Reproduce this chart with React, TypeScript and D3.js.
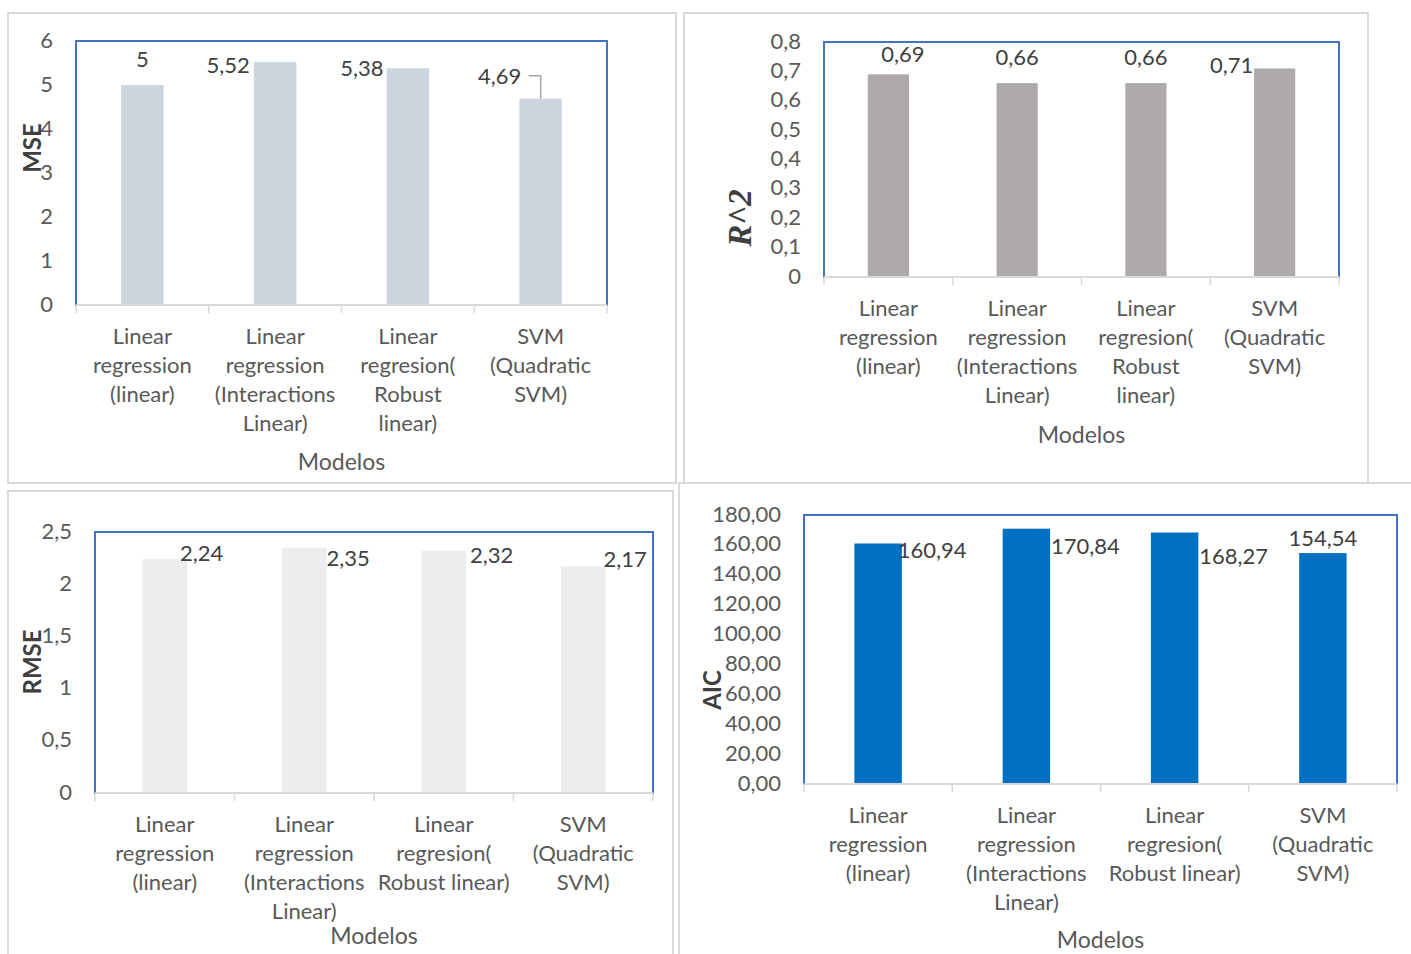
import React from 'react';
import * as d3 from 'd3';

// Model names, wrapped two ways depending on panel width
const categories = [
  'Linear regression (linear)',
  'Linear regression (Interactions Linear)',
  'Linear regresion( Robust linear)',
  'SVM (Quadratic SVM)',
];
const categoryLinesNarrow = [
  ['Linear', 'regression', '(linear)'],
  ['Linear', 'regression', '(Interactions', 'Linear)'],
  ['Linear', 'regresion(', 'Robust', 'linear)'],
  ['SVM', '(Quadratic', 'SVM)'],
];
const categoryLinesWide = [
  ['Linear', 'regression', '(linear)'],
  ['Linear', 'regression', '(Interactions', 'Linear)'],
  ['Linear', 'regresion(', 'Robust linear)'],
  ['SVM', '(Quadratic', 'SVM)'],
];

// Metric values per model
const mseValues = [5, 5.52, 5.38, 4.69];
const r2Values = [0.69, 0.66, 0.66, 0.71];
const rmseValues = [2.24, 2.35, 2.32, 2.17];
const aicValues = [160.94, 170.84, 168.27, 154.54];

// Axis ticks
const mseTicks = [0, 1, 2, 3, 4, 5, 6];
const r2Ticks = [0, 0.1, 0.2, 0.3, 0.4, 0.5, 0.6, 0.7, 0.8];
const rmseTicks = [0, 0.5, 1, 1.5, 2, 2.5];
const aicTicks = [0, 20, 40, 60, 80, 100, 120, 140, 160, 180];

const xTitle = 'Modelos';

const locale = d3.formatLocale({ decimal: ',', thousands: '.', grouping: [3], currency: ['', ''] });
const fmtGeneral = locale.format('~g');
const fmtFixed2 = locale.format('.2f');

const FONT = "Lato, 'Noto Sans', sans-serif";
const TICK_COLOR = '#595959';
const LABEL_COLOR = '#404040';
// small upward nudge so Lato's visual centre sits on the anchor
const TY = -2;

type Panel = {
  key: string;
  frame: [number, number, number, number];
  plot: [number, number, number, number]; // left, top, right, bottom
  values: number[];
  ticks: number[];
  tickFormat: (v: number) => string;
  labelFormat: (v: number) => string;
  barColor: string;
  title: string;
  titleStyle: React.CSSProperties;
  titlePos: [number, number];
  labelOffsets: [number, number][];
  leader?: { index: number; points: [number, number][] };
  lines: string[][];
  modelosDy: number;
};

const panels: Panel[] = [
  {
    key: 'mse',
    frame: [8, 13, 676, 483],
    plot: [76, 41, 607, 305],
    values: mseValues,
    ticks: mseTicks,
    tickFormat: fmtGeneral,
    labelFormat: fmtGeneral,
    barColor: '#CDD5DF',
    title: 'MSE',
    titleStyle: { fontFamily: FONT, fontWeight: 700, fontSize: 24, fill: LABEL_COLOR },
    titlePos: [31, 148],
    labelOffsets: [[0, -25], [-47, 4], [-46, 1.5], [-41, -21]],
    leader: { index: 3, points: [[-12, -23], [0, -23], [0, 0]] },
    lines: categoryLinesNarrow,
    modelosDy: 158,
  },
  {
    key: 'r2',
    frame: [684, 13, 1368, 483],
    plot: [824, 42, 1339, 277],
    values: r2Values,
    ticks: r2Ticks,
    tickFormat: fmtGeneral,
    labelFormat: fmtGeneral,
    barColor: '#AEAAAA',
    title: 'R^2',
    titleStyle: { fontFamily: "'Liberation Serif', serif", fontWeight: 700, fontStyle: 'italic', fontSize: 33, fill: LABEL_COLOR },
    titlePos: [740, 218],
    labelOffsets: [[14.5, -19], [0, -25], [0, -25], [-43, -1.5]],
    lines: categoryLinesNarrow,
    modelosDy: 159,
  },
  {
    key: 'rmse',
    frame: [8, 491, 673, 970],
    plot: [95, 532, 653, 793],
    values: rmseValues,
    ticks: rmseTicks,
    tickFormat: fmtGeneral,
    labelFormat: fmtGeneral,
    barColor: '#EDEDED',
    title: 'RMSE',
    titleStyle: { fontFamily: FONT, fontWeight: 700, fontSize: 24, fill: LABEL_COLOR },
    titlePos: [31, 662],
    labelOffsets: [[37, -5], [44, 12], [48, 6], [42, -6]],
    lines: categoryLinesWide,
    modelosDy: 144,
  },
  {
    key: 'aic',
    frame: [679, 483, 1430, 970],
    plot: [804, 515, 1397, 784],
    values: aicValues,
    ticks: aicTicks,
    tickFormat: fmtFixed2,
    labelFormat: fmtFixed2,
    barColor: '#0070C0',
    title: 'AIC',
    titleStyle: { fontFamily: FONT, fontWeight: 700, fontSize: 24, fill: LABEL_COLOR },
    titlePos: [711, 690],
    labelOffsets: [[54, 8.5], [59, 19], [59, 24.5], [0, -14]],
    lines: categoryLinesWide,
    modelosDy: 157,
  },
];

function BarPanel({ p }: { p: Panel }) {
  const [l, t, r, b] = p.plot;
  const x = d3.scaleBand<string>().domain(categories).range([l, r]).paddingInner(0.68).paddingOuter(0.34);
  const y = d3.scaleLinear().domain([p.ticks[0], p.ticks[p.ticks.length - 1]]).range([b, t]);
  const step = x.step();
  const bounds = d3.range(categories.length + 1).map((i) => l + i * step);
  const [fx0, fy0, fx1, fy1] = p.frame;
  const lineH = 29.3;

  return (
    <g>
      <rect x={fx0} y={fy0} width={fx1 - fx0} height={fy1 - fy0} fill="#fff" stroke="#D9D9D9" strokeWidth={2} />
      {/* plot area border */}
      <rect x={l} y={t} width={r - l} height={b - t} fill="none" stroke="#4472C4" strokeWidth={2} />
      {/* bars */}
      {p.values.map((v, i) => (
        <rect key={i} x={x(categories[i])} y={y(v)} width={x.bandwidth()} height={y(0) - y(v)} fill={p.barColor} />
      ))}
      {/* category axis */}
      <line x1={l} x2={r} y1={y(0)} y2={y(0)} stroke="#D9D9D9" strokeWidth={2} />
      {bounds.map((bx, i) => (
        <line key={i} x1={bx} x2={bx} y1={y(0)} y2={y(0) + 8} stroke="#D9D9D9" strokeWidth={1.5} />
      ))}
      {/* value ticks */}
      {p.ticks.map((tv, i) => (
        <text key={i} x={l - 23} y={y(tv) + TY} textAnchor="end" dominantBaseline="central" fontFamily={FONT} fontSize={22} fill={TICK_COLOR}>
          {p.tickFormat(tv)}
        </text>
      ))}
      {/* data labels */}
      {p.values.map((v, i) => {
        const cx = (x(categories[i]) as number) + x.bandwidth() / 2;
        const [dx, dy] = p.labelOffsets[i];
        return (
          <text key={i} x={cx + dx} y={y(v) + dy + TY} textAnchor="middle" dominantBaseline="central" fontFamily={FONT} fontSize={22} fill={LABEL_COLOR}>
            {p.labelFormat(v)}
          </text>
        );
      })}
      {p.leader && (() => {
        const i = p.leader.index;
        const cx = (x(categories[i]) as number) + x.bandwidth() / 2;
        const top = y(p.values[i]);
        const pts = p.leader.points.map(([dx, dy]) => [cx + dx, top + dy] as [number, number]);
        return <path d={d3.line()(pts) || ''} fill="none" stroke="#A6A6A6" strokeWidth={1.5} />;
      })()}
      {/* category labels */}
      {p.lines.map((lines, i) => {
        const cx = (x(categories[i]) as number) + x.bandwidth() / 2;
        return lines.map((s, j) => (
          <text key={`${i}-${j}`} x={cx} y={b + 32 + j * lineH + TY} textAnchor="middle" dominantBaseline="central" fontFamily={FONT} fontSize={22} fill={TICK_COLOR}>
            {s}
          </text>
        ));
      })}
      <text x={(l + r) / 2} y={b + p.modelosDy + TY} textAnchor="middle" dominantBaseline="central" fontFamily={FONT} fontSize={23} fill={TICK_COLOR}>
        {xTitle}
      </text>
      <text
        transform={`translate(${p.titlePos[0]},${p.titlePos[1]}) rotate(-90)`}
        textAnchor="middle"
        dominantBaseline="central"
        style={p.titleStyle}
      >
        {p.title}
      </text>
    </g>
  );
}

export default function App() {
  return (
    <svg
      width={1411}
      height={954}
      viewBox="0 0 1411 954"
      style={{ position: 'absolute', left: 0, top: 0, background: '#fff' }}
    >
      <rect x={0} y={0} width={1411} height={954} fill="#fff" />
      {panels.map((p) => (
        <BarPanel key={p.key} p={p} />
      ))}
    </svg>
  );
}
